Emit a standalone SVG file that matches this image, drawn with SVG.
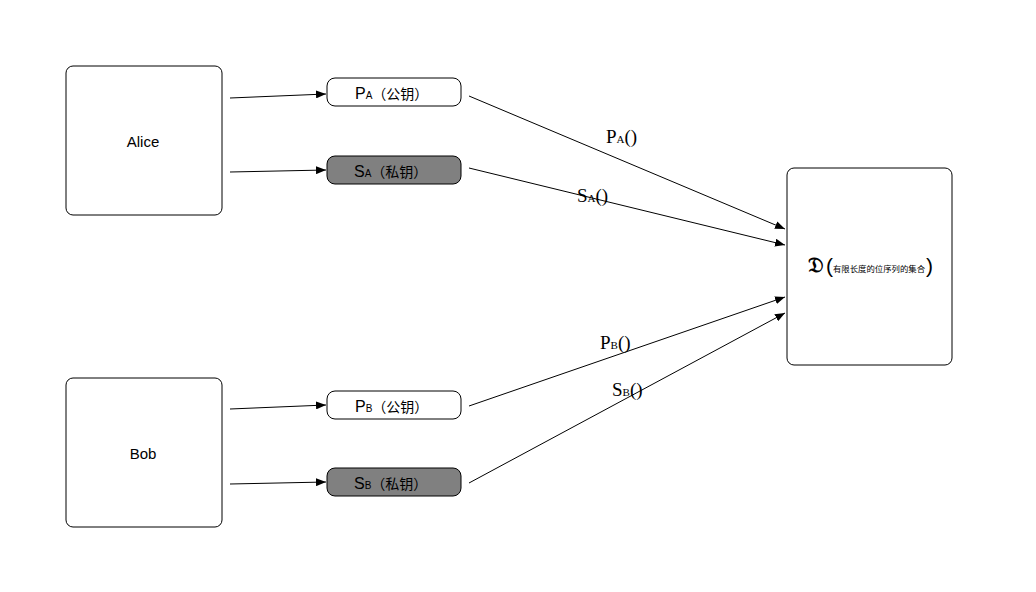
<svg xmlns="http://www.w3.org/2000/svg" width="1036" height="592" viewBox="0 0 1036 592">
<defs>
<marker id="ah" viewBox="0 0 10 8" refX="10" refY="4" markerWidth="10" markerHeight="8" markerUnits="userSpaceOnUse" orient="auto">
<path d="M0,0 L10,4 L0,8 Z" fill="#000"/>
</marker>
<style>
.node{fill:#fff;stroke:#000;stroke-width:1}
.key{fill:#fff;stroke:#000;stroke-width:1}
.priv{fill:#808080;stroke:#000;stroke-width:1}
.lbl{font-family:"Liberation Sans","Noto Sans CJK SC",sans-serif;font-size:15px;fill:#000}
.klbl{font-family:"Liberation Sans","Noto Sans CJK SC",sans-serif;font-size:14px;fill:#000}
.big{font-size:16px}
.sub{font-size:10px}
.el{font-family:"Liberation Serif","Noto Sans CJK SC",serif;font-size:19px;fill:#000}
.esub{font-size:11px}
.conn{stroke:#000;stroke-width:1;fill:none;marker-end:url(#ah)}
</style>
</defs>
<rect width="1036" height="592" fill="#fff"/>
<g id="alice">
<rect class="node" x="66" y="66" width="156" height="149" rx="7"/>
<text class="lbl" x="143" y="147" text-anchor="middle">Alice</text>
</g>
<g id="bob">
<rect class="node" x="66" y="378" width="156" height="149" rx="7"/>
<text class="lbl" x="143" y="459" text-anchor="middle">Bob</text>
</g>
<g id="pa">
<rect class="key" x="327" y="78" width="134" height="28" rx="8"/>
<text class="klbl" x="355" y="99"><tspan class="big">P</tspan><tspan class="sub">A</tspan>（公钥）</text>
</g>
<g id="sa">
<rect class="priv" x="327" y="156" width="134" height="28" rx="8"/>
<text class="klbl" x="354" y="177"><tspan class="big">S</tspan><tspan class="sub">A</tspan>（私钥）</text>
</g>
<g id="pb">
<rect class="key" x="327" y="391" width="134" height="28" rx="8"/>
<text class="klbl" x="355" y="412"><tspan class="big">P</tspan><tspan class="sub">B</tspan>（公钥）</text>
</g>
<g id="sb">
<rect class="priv" x="327" y="468" width="134" height="28" rx="8"/>
<text class="klbl" x="354" y="489"><tspan class="big">S</tspan><tspan class="sub">B</tspan>（私钥）</text>
</g>
<g id="dset">
<rect class="node" x="787" y="168" width="165" height="197" rx="7"/>
<text x="808" y="272" font-family="DejaVu Serif,DejaVu Sans,serif" font-size="21" font-weight="bold">𝔇</text>
<text x="826" y="273" font-family="Liberation Sans,sans-serif" font-size="21">(</text>
<text x="833" y="272" font-family="Noto Sans CJK SC,sans-serif" font-size="8.4">有限长度的位序列的集合</text>
<text x="926" y="273" font-family="Liberation Sans,sans-serif" font-size="21">)</text>
</g>
<g id="connectors">
<line class="conn" x1="230" y1="98" x2="326" y2="94"/>
<line class="conn" x1="230" y1="172" x2="326" y2="170"/>
<line class="conn" x1="230" y1="409" x2="326" y2="405"/>
<line class="conn" x1="230" y1="484" x2="326" y2="482"/>
<line class="conn" x1="469" y1="96" x2="785" y2="229"/>
<line class="conn" x1="469" y1="168" x2="785" y2="245"/>
<line class="conn" x1="469" y1="406" x2="785" y2="297"/>
<line class="conn" x1="469" y1="483" x2="785" y2="313"/>
<text class="el" x="606" y="143">P<tspan class="esub">A</tspan>()</text>
<text class="el" x="577" y="202">S<tspan class="esub">A</tspan>()</text>
<text class="el" x="600" y="349">P<tspan class="esub">B</tspan>()</text>
<text class="el" x="612" y="396">S<tspan class="esub">B</tspan>()</text>
</g>
</svg>
